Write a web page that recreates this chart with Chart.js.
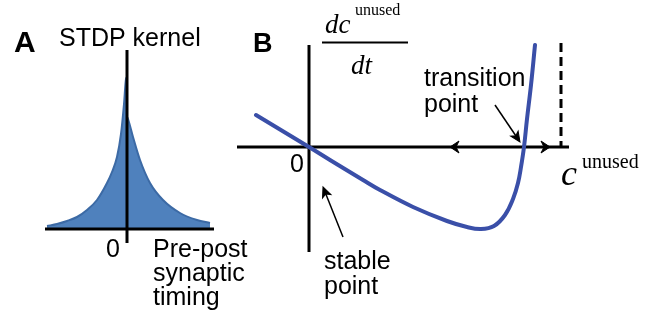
<!DOCTYPE html>
<html>
<head>
<meta charset="utf-8">
<script src="https://cdn.jsdelivr.net/npm/chart.js@4/dist/chart.umd.min.js"></script>
<style>
  html, body { margin: 0; padding: 0; background: #fff; }
  #wrap { position: relative; width: 658px; height: 325px; overflow: hidden; }
  #wrap canvas { position: absolute; left: 0; top: 0; }
</style>
</head>
<body>
<div id="wrap">
  <canvas id="kernel" width="658" height="325"></canvas>
  <canvas id="phase" width="658" height="325"></canvas>
</div>
<script>
// ---- Panel A: STDP kernel (weight change vs. pre-post spike timing, arbitrary units)
const kernelPotTiming = [-80, -70, -60, -50, -40, -30, -20, -15, -10, -6, -3, -1, 0];
const kernelPotAmp    = [3, 5, 8, 12, 19, 29, 46, 57, 72, 95, 125, 150, 152];
const kernelDepTiming = [0, 1, 6, 13, 23, 36, 53, 70, 83];
const kernelDepAmp    = [112, 110, 92, 69, 46, 29, 16, 9, 6];
const kernelTickLabels = ['0'];

// ---- Panel B: rate of change of the unused weight vs. the unused weight
const cUnused    = [-53, 0, 21, 54, 71, 104, 138, 158, 172, 185, 196, 204, 209, 212, 215, 218, 222, 226];
const dcUnusedDt = [32, 0, -13, -33, -43, -60, -74, -80, -82, -79, -68, -52, -36, -20, 0, 28, 62, 102];
const phaseTickLabels = ['0'];
const stablePoint = 0;        // c where dc/dt = 0 and the slope is negative
const transitionPoint = 215;  // c where dc/dt = 0 and the slope is positive
const upperBound = 252;       // dashed upper limit of c
const flowArrows = [141, 241]; // positions of the flow direction arrowheads

const SANS = '"Liberation Sans", Arial, Helvetica, sans-serif';
const SERIF = '"Liberation Serif", "Times New Roman", serif';

function toXY(xs, ys) { return xs.map((x, i) => ({ x: x, y: ys[i] })); }

function line(ctx, x1, y1, x2, y2, w, dash) {
  ctx.save();
  ctx.beginPath();
  ctx.lineWidth = w;
  ctx.strokeStyle = '#000';
  if (dash) ctx.setLineDash(dash);
  ctx.moveTo(x1, y1);
  ctx.lineTo(x2, y2);
  ctx.stroke();
  ctx.restore();
}

// filled barbed arrowhead with its tip at (x, y), pointing along angle a
function arrowHead(ctx, x, y, a, len, half, notch) {
  ctx.save();
  ctx.translate(x, y);
  ctx.rotate(a);
  ctx.beginPath();
  ctx.moveTo(0, 0);
  ctx.lineTo(-len, -half);
  ctx.lineTo(-len + notch, 0);
  ctx.lineTo(-len, half);
  ctx.closePath();
  ctx.fillStyle = '#000';
  ctx.fill();
  ctx.lineWidth = 1;
  ctx.strokeStyle = '#000';
  ctx.stroke();
  ctx.restore();
}

function pointer(ctx, x1, y1, x2, y2) {
  const a = Math.atan2(y2 - y1, x2 - x1);
  line(ctx, x1, y1, x2 - 6 * Math.cos(a), y2 - 6 * Math.sin(a), 1.5);
  arrowHead(ctx, x2, y2, a, 10, 4.5, 2.5);
}

function text(ctx, s, x, y, font, align) {
  ctx.save();
  ctx.font = font;
  ctx.fillStyle = '#000';
  ctx.textAlign = align || 'left';
  ctx.textBaseline = 'alphabetic';
  ctx.fillText(s, x, y);
  ctx.restore();
}

const hidden = { display: false };

// ---------------- Panel A ----------------
const kernelDecor = {
  id: 'kernelDecor',
  afterDatasetsDraw(chart) {
    const ctx = chart.ctx;
    const xs = chart.scales.x, ys = chart.scales.y;
    const x0 = xs.getPixelForValue(0), y0 = ys.getPixelForValue(0);
    // axes
    line(ctx, xs.left, y0, xs.right, y0, 3);
    line(ctx, x0, ys.top, x0, ys.bottom, 3);
    // labels
    text(ctx, 'A', 14, 52, 'bold 30px ' + SANS);
    text(ctx, 'STDP kernel', 59, 46, '25px ' + SANS);
    text(ctx, kernelTickLabels[0], x0 - 7, 257, '25px ' + SANS, 'right');
    text(ctx, 'Pre-post', 153, 257, '25px ' + SANS);
    text(ctx, 'synaptic', 153, 281, '25px ' + SANS);
    text(ctx, 'timing', 153, 305, '25px ' + SANS);
  }
};

new Chart(document.getElementById('kernel'), {
  type: 'line',
  data: {
    datasets: [
      {
        data: toXY(kernelPotTiming, kernelPotAmp),
        fill: 'origin',
        backgroundColor: '#4f81bd',
        borderColor: '#3c6aa5',
        borderWidth: 2,
        pointRadius: 0,
        cubicInterpolationMode: 'monotone'
      },
      {
        data: toXY(kernelDepTiming, kernelDepAmp),
        fill: 'origin',
        backgroundColor: '#4f81bd',
        borderColor: '#3c6aa5',
        borderWidth: 2,
        pointRadius: 0,
        cubicInterpolationMode: 'monotone'
      }
    ]
  },
  options: {
    responsive: false,
    animation: false,
    devicePixelRatio: 1,
    layout: { autoPadding: false, padding: { left: 45, right: 444, top: 50, bottom: 82 } },
    plugins: { legend: hidden, tooltip: { enabled: false } },
    scales: {
      x: { type: 'linear', min: -82, max: 87, display: false },
      y: { type: 'linear', min: -14, max: 179, display: false }
    }
  },
  plugins: [kernelDecor]
});

// ---------------- Panel B ----------------
const phaseDecor = {
  id: 'phaseDecor',
  beforeDatasetsDraw(chart) {
    const ctx = chart.ctx;
    const xs = chart.scales.x, ys = chart.scales.y;
    const x0 = xs.getPixelForValue(0), y0 = ys.getPixelForValue(0);
    // axes
    line(ctx, xs.left, y0, xs.right, y0, 3);
    line(ctx, x0, ys.getPixelForValue(102), x0, ys.bottom, 3);
    // upper bound of c
    const xb = xs.getPixelForValue(upperBound);
    line(ctx, xb, ys.top, xb, y0 - 1, 3, [9, 5]);
    // flow direction on the c axis: towards the stable point on the left, away on the right
    arrowHead(ctx, xs.getPixelForValue(flowArrows[0]), y0, Math.PI, 9, 6, 3);
    arrowHead(ctx, xs.getPixelForValue(flowArrows[1]), y0, 0, 9, 6, 3);
  },
  afterDatasetsDraw(chart) {
    const ctx = chart.ctx;
    const xs = chart.scales.x, ys = chart.scales.y;
    const x0 = xs.getPixelForValue(0), y0 = ys.getPixelForValue(0);
    text(ctx, 'B', 253, 52, 'bold 27px ' + SANS);
    text(ctx, phaseTickLabels[0], x0 - 5, 172, '25px ' + SANS, 'right');

    // dc^unused / dt
    text(ctx, 'dc', 325, 33, 'italic 27px ' + SERIF);
    text(ctx, 'unused', 355, 15, '16px ' + SERIF);
    ctx.save();
    ctx.fillStyle = '#000';
    ctx.fillRect(322, 41.5, 86, 2);
    ctx.restore();
    text(ctx, 'dt', 351, 74, 'italic 27px ' + SERIF);

    // c^unused
    text(ctx, 'c', 561, 185, 'italic 36px ' + SERIF);
    text(ctx, 'unused', 582, 168, '20px ' + SERIF);

    // annotations
    const xt = xs.getPixelForValue(transitionPoint);
    text(ctx, 'transition', 424, 86, '25px ' + SANS);
    text(ctx, 'point', 424, 112, '25px ' + SANS);
    pointer(ctx, 495, 105, xt - 4, y0 - 5);

    const xsP = xs.getPixelForValue(stablePoint);
    text(ctx, 'stable', 324, 269, '25px ' + SANS);
    text(ctx, 'point', 324, 294, '25px ' + SANS);
    pointer(ctx, 343, 237, xsP + 14, y0 + 40);
  }
};

new Chart(document.getElementById('phase'), {
  type: 'line',
  data: {
    datasets: [{
      data: toXY(cUnused, dcUnusedDt),
      fill: false,
      borderColor: '#3a4fa8',
      borderWidth: 4,
      borderCapStyle: 'round',
      pointRadius: 0,
      tension: 0.4
    }]
  },
  options: {
    responsive: false,
    animation: false,
    devicePixelRatio: 1,
    layout: { autoPadding: false, padding: { left: 237, right: 89, top: 43, bottom: 73 } },
    plugins: { legend: hidden, tooltip: { enabled: false } },
    scales: {
      x: { type: 'linear', min: -72, max: 260, display: false },
      y: { type: 'linear', min: -105, max: 104, display: false }
    }
  },
  plugins: [phaseDecor]
});
</script>
</body>
</html>
